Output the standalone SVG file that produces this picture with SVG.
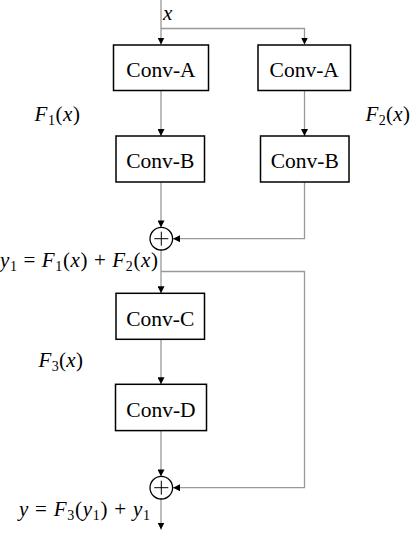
<svg xmlns="http://www.w3.org/2000/svg" width="410" height="534" viewBox="0 0 410 534">
<style>
.box{fill:#fff;stroke:#000;stroke-width:1.5}
.lbl{font-family:"Liberation Serif","Times New Roman",serif;font-size:21.5px;fill:#000;text-anchor:middle}
.math{font-family:"Liberation Serif","Times New Roman",serif;font-size:21px;fill:#000}
.i{font-style:italic}
.s{font-size:14px}
.conn path{fill:none;stroke:#999;stroke-width:1.3}
.sum circle{fill:#fff;stroke:#000;stroke-width:1.3}
.sum path{stroke:#000;stroke-width:1}
</style>
<defs>
<marker id="ah" viewBox="0 0 10 10" refX="10" refY="5" markerWidth="7" markerHeight="7" markerUnits="userSpaceOnUse" orient="auto">
<path d="M0,0 L10,5 L0,10 Z" fill="#000"/>
</marker>
</defs>
<g class="conn" id="connectors">
<path d="M161 0 V44.5" marker-end="url(#ah)"/>
<path d="M161 28.5 H304.5 V44.5" marker-end="url(#ah)"/>
<path d="M161 91 V136" marker-end="url(#ah)"/>
<path d="M304.5 91 V136" marker-end="url(#ah)"/>
<path d="M161 182 V227.4" marker-end="url(#ah)"/>
<path d="M304.5 182 V238.7 H173" marker-end="url(#ah)"/>
<path d="M161 250 V293.3" marker-end="url(#ah)"/>
<path d="M161 271.5 H304.5 V487.7 H173" marker-end="url(#ah)"/>
<path d="M161 339.3 V384.3" marker-end="url(#ah)"/>
<path d="M161 430.7 V476.4" marker-end="url(#ah)"/>
<path d="M161 499 V529.5" marker-end="url(#ah)"/>
</g>
<g id="convA1"><rect class="box" x="113.5" y="45" width="95" height="45.5"/><text class="lbl" x="161" y="77">Conv-A</text></g>
<g id="convA2"><rect class="box" x="258" y="45" width="92.5" height="45.5"/><text class="lbl" x="304.2" y="77">Conv-A</text></g>
<g id="convB1"><rect class="box" x="116" y="136" width="88.5" height="46"/><text class="lbl" x="160.3" y="168">Conv-B</text></g>
<g id="convB2"><rect class="box" x="260.5" y="136" width="88.5" height="46"/><text class="lbl" x="304.7" y="168">Conv-B</text></g>
<g id="sum1" class="sum"><circle cx="161.3" cy="238.7" r="11.3"/><path d="M154.3 238.7 H168.3 M161.3 231.7 V245.7"/></g>
<g id="convC"><rect class="box" x="116" y="293.3" width="88.5" height="46"/><text class="lbl" x="160.3" y="325.5">Conv-C</text></g>
<g id="convD"><rect class="box" x="115.5" y="384.3" width="91" height="46.3"/><text class="lbl" x="161" y="416.5">Conv-D</text></g>
<g id="sum2" class="sum"><circle cx="161.3" cy="487.7" r="11.3"/><path d="M154.3 487.7 H168.3 M161.3 480.7 V494.7"/></g>
<g id="labels">
<text class="math i" x="163" y="20" font-size="22">x</text>
<text class="math" x="34.5" y="121" textLength="45.5" lengthAdjust="spacing"><tspan class="i">F</tspan><tspan class="s" dy="4">1</tspan><tspan dy="-4">(</tspan><tspan class="i">x</tspan>)</text>
<text class="math" x="365.5" y="121" textLength="44.5" lengthAdjust="spacing"><tspan class="i">F</tspan><tspan class="s" dy="4">2</tspan><tspan dy="-4">(</tspan><tspan class="i">x</tspan>)</text>
<text class="math" x="0" y="267" textLength="158" lengthAdjust="spacing"><tspan class="i">y</tspan><tspan class="s" dy="4">1</tspan><tspan dy="-4"> = </tspan><tspan class="i">F</tspan><tspan class="s" dy="4">1</tspan><tspan dy="-4">(</tspan><tspan class="i">x</tspan>) + <tspan class="i">F</tspan><tspan class="s" dy="4">2</tspan><tspan dy="-4">(</tspan><tspan class="i">x</tspan>)</text>
<text class="math" x="38.5" y="366.5" textLength="44.5" lengthAdjust="spacing"><tspan class="i">F</tspan><tspan class="s" dy="4">3</tspan><tspan dy="-4">(</tspan><tspan class="i">x</tspan>)</text>
<text class="math" x="19" y="515.5" textLength="131" lengthAdjust="spacing"><tspan class="i">y</tspan> = <tspan class="i">F</tspan><tspan class="s" dy="4">3</tspan><tspan dy="-4">(</tspan><tspan class="i">y</tspan><tspan class="s" dy="4">1</tspan><tspan dy="-4">) + </tspan><tspan class="i">y</tspan><tspan class="s" dy="4">1</tspan></text>
</g>
</svg>
